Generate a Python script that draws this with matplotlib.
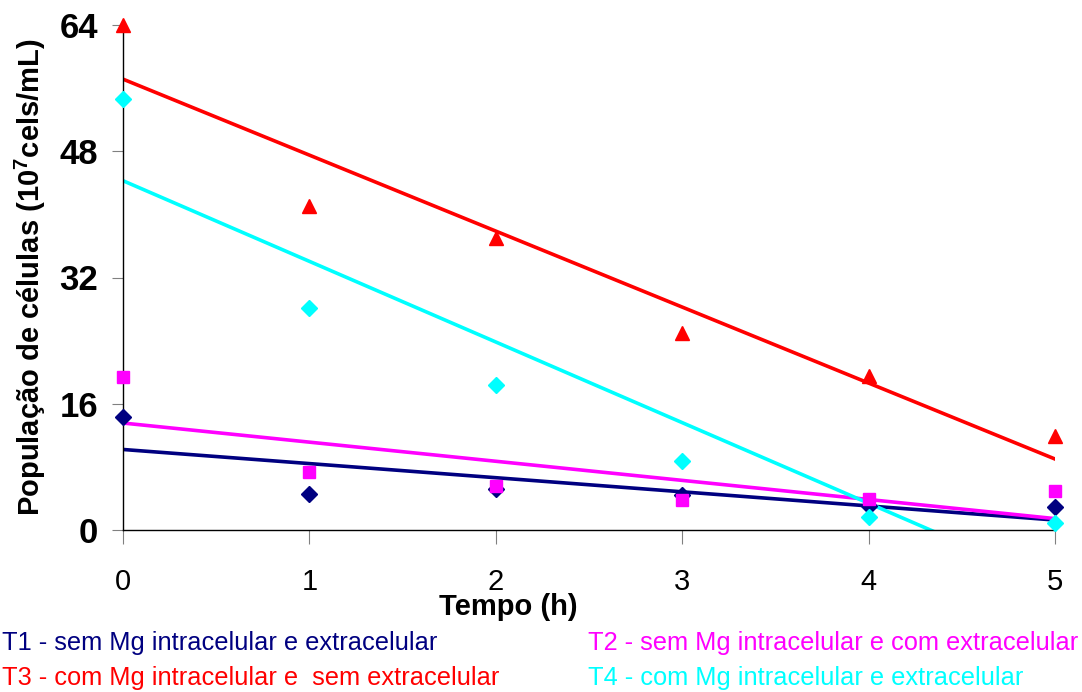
import matplotlib
matplotlib.use("Agg")
import matplotlib.pyplot as plt
import numpy as np

plt.rcParams['font.family'] = 'Liberation Sans'
plt.rcParams['mathtext.fontset'] = 'custom'
plt.rcParams['mathtext.rm'] = 'Liberation Sans'
plt.rcParams['mathtext.bf'] = 'Liberation Sans:bold'

tempo = [0, 1, 2, 3, 4, 5]
t1 = [14.3, 4.6, 5.2, 4.4, 3.0, 2.9]
t2 = [19.4, 7.4, 5.6, 3.8, 3.9, 4.9]
t3 = [64.0, 41.0, 37.0, 25.0, 19.5, 11.9]
t4 = [54.6, 28.1, 18.4, 8.7, 1.6, 0.9]

labels = ["T1 - sem Mg intracelular e extracelular",
          "T2 - sem Mg intracelular e com extracelular",
          "T3 - com Mg intracelular e  sem extracelular",
          "T4 - com Mg intracelular e extracelular"]
colors = ["#000080", "#FF00FF", "#FF0000", "#00FFFF"]
markers = ["D", "s", "^", "D"]
msizes = [8, 9, 10, 8]

fig = plt.figure(figsize=(10.82, 6.92), dpi=100)
ax = fig.add_axes([123/1082, 1-530/692, (1055-123)/1082, (530-25)/692])

series = [t1, t2, t3, t4]
xx = np.linspace(0, 5, 200)
# linear trend lines first, then the points
for s, c in zip(series, colors):
    k, b = np.polyfit(tempo, s, 1)
    ax.plot(xx, k*xx + b, color=c, linewidth=2.6, zorder=2)
for s, c, m, ms in zip(series, colors, markers, msizes):
    ax.plot(tempo, s, linestyle='none', marker=m, color=c, markersize=ms, zorder=3, clip_on=False)

ax.set_xlim(0, 5)
ax.set_ylim(0, 64)
ax.set_yticks([0, 16, 32, 48, 64])
ax.set_xticks(tempo)
for sp in ['top', 'right']:
    ax.spines[sp].set_visible(False)
ax.spines['left'].set_linewidth(1)
ax.spines['bottom'].set_linewidth(1)
ax.tick_params(axis='y', direction='out', length=8, color='gray', labelsize=25, pad=10)
ax.tick_params(axis='x', direction='out', length=10, color='gray', labelsize=21, pad=17)
for t in ax.get_yticklabels():
    t.set_fontweight('bold')

ax.set_xlabel("Tempo (h)", fontsize=21, fontweight='bold', va='center')
ax.xaxis.set_label_coords(0.413, -0.152)
ax.set_ylabel(r"População de células (10$^{\mathbf{7}}$cels/mL)", fontsize=21, fontweight='bold', labelpad=8)

fig.text(2/1082, 1-643/692, labels[0], color=colors[0], fontsize=18.3, va='center', ha='left')
fig.text(588/1082, 1-643/692, labels[1], color=colors[1], fontsize=18.3, va='center', ha='left')
fig.text(2/1082, 1-678/692, labels[2], color=colors[2], fontsize=18.3, va='center', ha='left')
fig.text(588/1082, 1-678/692, labels[3], color=colors[3], fontsize=18.3, va='center', ha='left')

fig.savefig("out.png", dpi=100)
